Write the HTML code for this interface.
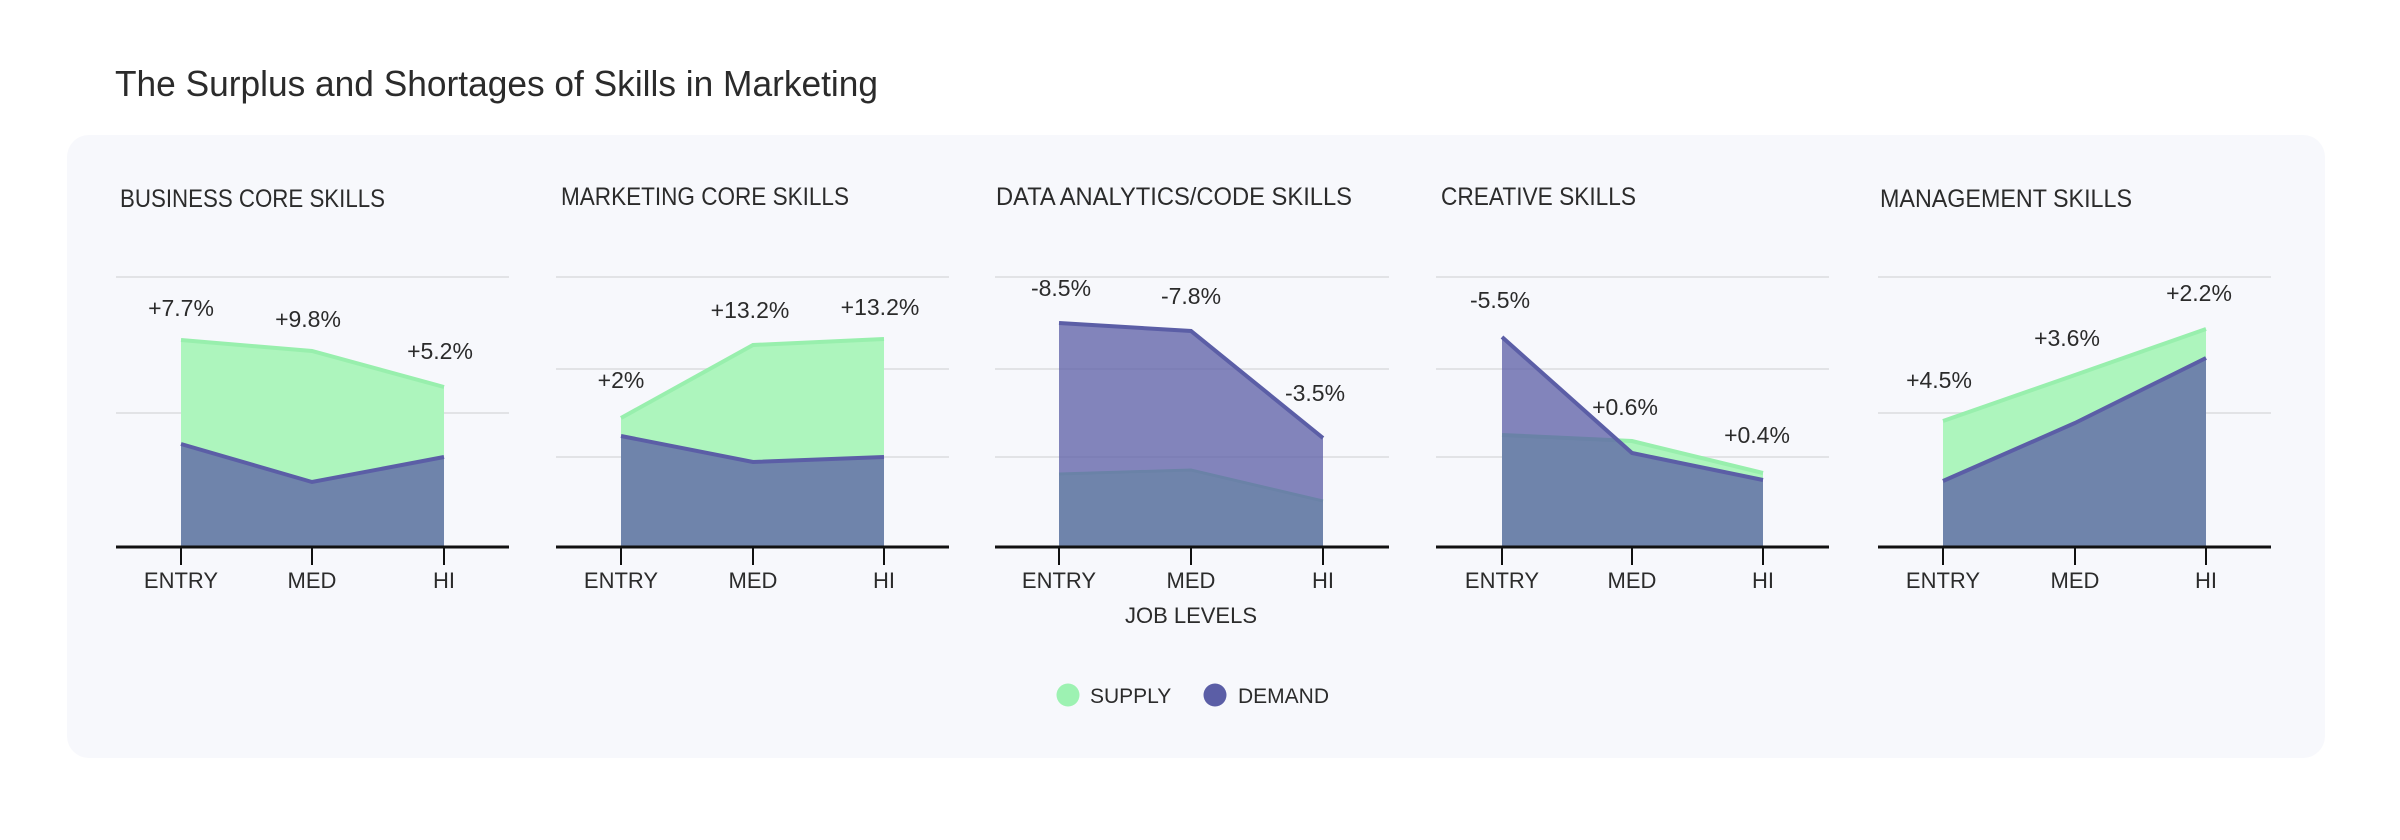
<!DOCTYPE html>
<html><head><meta charset="utf-8"><style>
html,body{margin:0;padding:0;background:#fff;}
svg{display:block;}
text{font-family:"Liberation Sans Narrow","Liberation Sans",sans-serif;fill:#2b2b2b;}
</style></head><body>
<svg width="2400" height="840" viewBox="0 0 2400 840" xmlns="http://www.w3.org/2000/svg">
<rect x="67" y="135" width="2258" height="623" rx="22" fill="#f7f8fc"/>
<text x="115" y="96" font-size="36" textLength="763" lengthAdjust="spacingAndGlyphs">The Surplus and Shortages of Skills in Marketing</text>

<g font-size="25">
<text x="120" y="207" textLength="265" lengthAdjust="spacingAndGlyphs">BUSINESS CORE SKILLS</text>
<text x="561" y="205" textLength="288" lengthAdjust="spacingAndGlyphs">MARKETING CORE SKILLS</text>
<text x="996" y="205" textLength="356" lengthAdjust="spacingAndGlyphs">DATA ANALYTICS/CODE SKILLS</text>
<text x="1441" y="205" textLength="195" lengthAdjust="spacingAndGlyphs">CREATIVE SKILLS</text>
<text x="1880" y="207" textLength="252" lengthAdjust="spacingAndGlyphs">MANAGEMENT SKILLS</text>
</g>

<g stroke="#e2e3e6" stroke-width="2">
<line x1="116" x2="509" y1="277" y2="277"/><line x1="116" x2="509" y1="413" y2="413"/>
<line x1="556" x2="949" y1="277" y2="277"/><line x1="556" x2="949" y1="369" y2="369"/><line x1="556" x2="949" y1="457" y2="457"/>
<line x1="995" x2="1389" y1="277" y2="277"/><line x1="995" x2="1389" y1="369" y2="369"/><line x1="995" x2="1389" y1="457" y2="457"/>
<line x1="1436" x2="1829" y1="277" y2="277"/><line x1="1436" x2="1829" y1="369" y2="369"/><line x1="1436" x2="1829" y1="457" y2="457"/>
<line x1="1878" x2="2271" y1="277" y2="277"/><line x1="1878" x2="2271" y1="413" y2="413"/>
</g>

<!-- chart 1 -->
<polygon points="181,547 181,340 312,351 444,387 444,547" fill="#adf5bd"/>
<polyline points="181,340 312,351 444,387" fill="none" stroke="#98efad" stroke-width="4"/>
<polygon points="181,547 181,444 312,482 444,457 444,547" fill="rgba(91,94,166,0.75)"/>
<polyline points="181,444 312,482 444,457" fill="none" stroke="#5b5ea6" stroke-width="4"/>
<!-- chart 2 -->
<polygon points="621,547 621,418 753,345 884,339 884,547" fill="#adf5bd"/>
<polyline points="621,418 753,345 884,339" fill="none" stroke="#98efad" stroke-width="4"/>
<polygon points="621,547 621,436 753,462 884,457 884,547" fill="rgba(91,94,166,0.75)"/>
<polyline points="621,436 753,462 884,457" fill="none" stroke="#5b5ea6" stroke-width="4"/>
<!-- chart 3 -->
<polygon points="1059,547 1059,474 1191,470 1323,501 1323,547" fill="#adf5bd"/>
<polyline points="1059,474 1191,470 1323,501" fill="none" stroke="#98efad" stroke-width="3"/>
<polygon points="1059,547 1059,323 1191,331 1323,438 1323,547" fill="rgba(91,94,166,0.75)"/>
<polyline points="1059,323 1191,331 1323,438" fill="none" stroke="#5b5ea6" stroke-width="4"/>
<!-- chart 4 -->
<polygon points="1502,547 1502,435 1632,441 1763,473 1763,547" fill="#adf5bd"/>
<polyline points="1502,435 1632,441 1763,473" fill="none" stroke="#98efad" stroke-width="4"/>
<polygon points="1502,547 1502,337 1632,453 1763,480 1763,547" fill="rgba(91,94,166,0.75)"/>
<polyline points="1502,337 1632,453 1763,480" fill="none" stroke="#5b5ea6" stroke-width="4"/>
<!-- chart 5 -->
<polygon points="1943,547 1943,421 2075,375 2206,329 2206,547" fill="#adf5bd"/>
<polyline points="1943,421 2075,375 2206,329" fill="none" stroke="#98efad" stroke-width="4"/>
<polygon points="1943,547 1943,481 2075,423 2206,358 2206,547" fill="rgba(91,94,166,0.75)"/>
<polyline points="1943,481 2075,423 2206,358" fill="none" stroke="#5b5ea6" stroke-width="4"/>

<g stroke="#111" stroke-width="3">
<line x1="116" x2="509" y1="547" y2="547"/><line x1="556" x2="949" y1="547" y2="547"/>
<line x1="995" x2="1389" y1="547" y2="547"/><line x1="1436" x2="1829" y1="547" y2="547"/>
<line x1="1878" x2="2271" y1="547" y2="547"/>
</g>
<g stroke="#111" stroke-width="2">
<line x1="181" x2="181" y1="547" y2="565"/><line x1="312" x2="312" y1="547" y2="565"/><line x1="444" x2="444" y1="547" y2="565"/>
<line x1="621" x2="621" y1="547" y2="565"/><line x1="753" x2="753" y1="547" y2="565"/><line x1="884" x2="884" y1="547" y2="565"/>
<line x1="1059" x2="1059" y1="547" y2="565"/><line x1="1191" x2="1191" y1="547" y2="565"/><line x1="1323" x2="1323" y1="547" y2="565"/>
<line x1="1502" x2="1502" y1="547" y2="565"/><line x1="1632" x2="1632" y1="547" y2="565"/><line x1="1763" x2="1763" y1="547" y2="565"/>
<line x1="1943" x2="1943" y1="547" y2="565"/><line x1="2075" x2="2075" y1="547" y2="565"/><line x1="2206" x2="2206" y1="547" y2="565"/>
</g>

<g font-size="22" text-anchor="middle">
<text x="181" y="588">ENTRY</text><text x="312" y="588">MED</text><text x="444" y="588">HI</text>
<text x="621" y="588">ENTRY</text><text x="753" y="588">MED</text><text x="884" y="588">HI</text>
<text x="1059" y="588">ENTRY</text><text x="1191" y="588">MED</text><text x="1323" y="588">HI</text>
<text x="1502" y="588">ENTRY</text><text x="1632" y="588">MED</text><text x="1763" y="588">HI</text>
<text x="1943" y="588">ENTRY</text><text x="2075" y="588">MED</text><text x="2206" y="588">HI</text>
<text x="1191" y="623">JOB LEVELS</text>
</g>

<g font-size="23" text-anchor="middle">
<text x="181" y="316">+7.7%</text><text x="308" y="327">+9.8%</text><text x="440" y="359">+5.2%</text>
<text x="621" y="388">+2%</text><text x="750" y="318">+13.2%</text><text x="880" y="315">+13.2%</text>
<text x="1061" y="296">-8.5%</text><text x="1191" y="304">-7.8%</text><text x="1315" y="401">-3.5%</text>
<text x="1500" y="308">-5.5%</text><text x="1625" y="415">+0.6%</text><text x="1757" y="443">+0.4%</text>
<text x="1939" y="388">+4.5%</text><text x="2067" y="346">+3.6%</text><text x="2199" y="301">+2.2%</text>
</g>

<circle cx="1068" cy="695" r="11.5" fill="#9df2b2"/>
<text x="1090" y="703" font-size="21">SUPPLY</text>
<circle cx="1215" cy="695" r="11.5" fill="#5b5ea6"/>
<text x="1238" y="703" font-size="21">DEMAND</text>
</svg>
</body></html>
